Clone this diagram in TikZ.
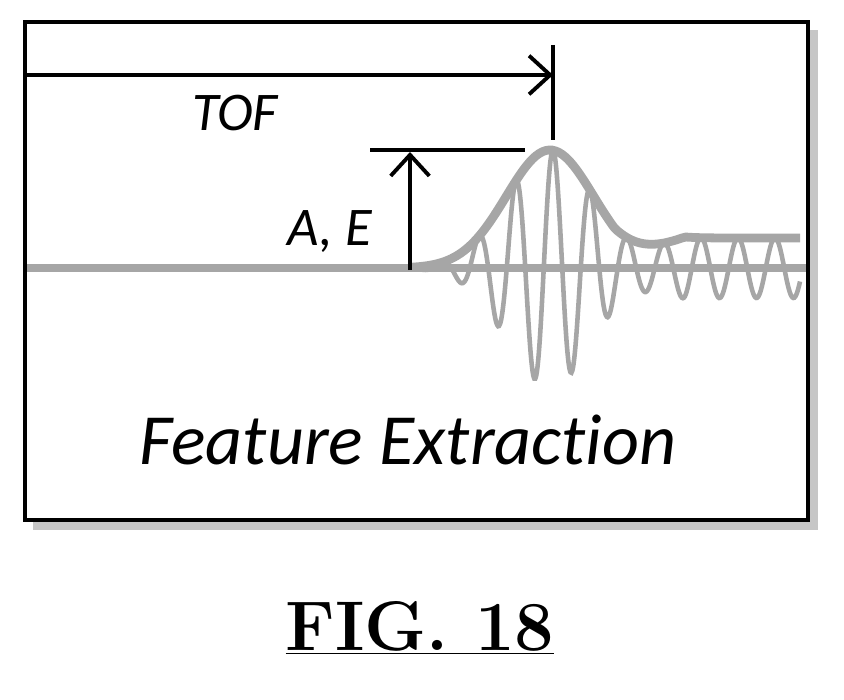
\documentclass[tikz,border=0pt]{standalone}
\usepackage{fontspec}
\setsansfont[Ligatures=NoCommon]{Carlito}
\usetikzlibrary{arrows.meta}
\def\amp#1{(118*exp(-(((#1)-550)/62)^2)+15*(1+max(-1,min(1,((#1)-650)/35))))}
\begin{document}
\begin{tikzpicture}[x=0.02cm,y=-0.02cm]
  \tikzstyle{dim line}=[line width=2.2pt,black]
  \tikzstyle{label}=[font=\sffamily\itshape]
  \tikzstyle{wave}=[gray!70,line width=2.4pt]
  \useasboundingbox (0,0) rectangle (844,699);

  % frame with shadow
  \fill[gray!45] (33,30) rectangle (818,530);
  \draw[line width=2pt,fill=white] (25,22) rectangle (808,520);

  % baseline and signal
  \draw[wave,line width=4pt] (27,268) -- (806,268);
  \draw[wave,line width=2.6pt,smooth] plot[domain=420:800,samples=400]
    (\x,{268-\amp{\x}*cos(9.7297*(\x-553))});
  \draw[wave,line width=5pt,smooth] plot[domain=412:800,samples=120]
    (\x,{268-\amp{\x}});

  % time of flight
  \coordinate (tof start) at (27,75);
  \coordinate (tof end) at (553,75);
  \draw[dim line,-{Straight Barb[length=12pt,width=22pt]}] (tof start) -- (tof end);
  \coordinate (tick top) at (553,45);
  \coordinate (tick bot) at (553,140);
  \draw[dim line] (tick top) -- (tick bot);
  \node[label,font=\sffamily\itshape\fontsize{31}{31}\selectfont] (tof) at (235,113) {TOF};

  % amplitude / energy
  \coordinate (amp left) at (370,150);
  \coordinate (amp right) at (525,150);
  \draw[dim line] (amp left) -- (amp right);
  \coordinate (amp base) at (410,270);
  \coordinate (amp top) at (410,152);
  \draw[dim line,-{Straight Barb[length=12pt,width=22pt]}] (amp base) -- (amp top);
  \node[label,font=\sffamily\itshape\fontsize{31}{31}\selectfont] (ae) at (330,232) {A, E};

  % captions
  \node[label,font=\sffamily\itshape\fontsize{41}{41}\selectfont] (title) at (408,440) {Feature Extraction};
  \node[font=\bfseries\fontsize{40}{40}\selectfont] (fig) at (420,628) {\underline{FIG. 18}};
\end{tikzpicture}
\end{document}
